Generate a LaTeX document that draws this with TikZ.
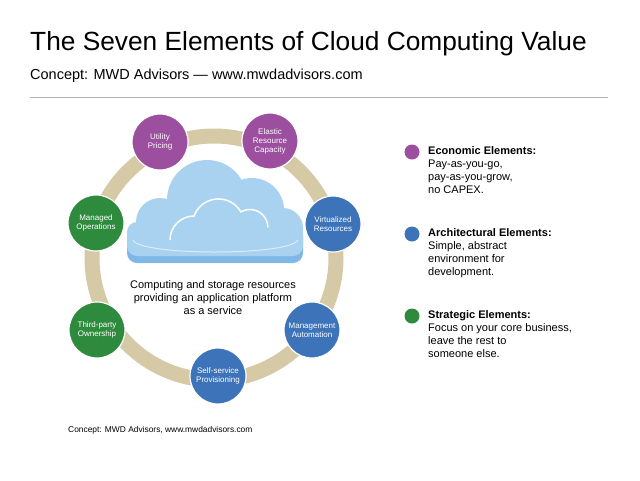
\documentclass[tikz,border=0pt]{standalone}
\usepackage{fontspec}
\setmainfont{Liberation Sans}
\begin{document}
\begin{tikzpicture}[x=1pt,y=-1pt,
  purp/.style={circle,fill=purpleC,draw=white,line width=1.2pt,minimum size=56pt,inner sep=0pt,text=white,font=\fontsize{8}{9}\selectfont,align=center},
  blu/.style={purp,fill=blueC},
  grn/.style={purp,fill=greenC},
  dot/.style={circle,minimum size=15pt,inner sep=0pt},
  leg/.style={anchor=north west,align=left,font=\fontsize{11}{13}\selectfont,inner sep=0pt}]
\definecolor{purpleC}{HTML}{9B4F9E}
\definecolor{blueC}{HTML}{3D73B9}
\definecolor{greenC}{HTML}{2E8B3E}
\definecolor{ringC}{HTML}{D6C9A6}
\definecolor{cloudC}{HTML}{A8D2F0}
\definecolor{cloudE}{HTML}{7FB8E6}
\useasboundingbox (0,0) rectangle (640,480);
\node[anchor=west,font=\fontsize{26.3}{30}\selectfont,inner sep=0pt] (title) at (30,44) {The Seven Elements of Cloud Computing Value};
\node[anchor=west,font=\fontsize{14.5}{17}\selectfont,inner sep=0pt] (sub) at (30,76) {Concept: MWD Advisors — www.mwdadvisors.com};
\draw[gray!60,line width=0.7pt] (30,97) -- (608,97);
\draw[ringC,line width=15pt] (214,258) circle (122);
% cloud
\fill[cloudE,rounded corners=10pt] (127,225) rectangle (303,263);
\fill[cloudC,rounded corners=10pt] (127,222) rectangle (303,256);
\fill[cloudC] (160,222) circle (24) (207,200) circle (40) (252,210) circle (32) (283,228) circle (20);
\draw[white,line width=1.5pt] (170,240) arc (180:270:24) arc (200:330:26) arc (240:360:18);
\draw[white!60!cloudC,line width=1pt] (133,240) .. controls (140,256) and (290,256) .. (298,240);
\node[font=\fontsize{11}{13}\selectfont,align=center] (cap) at (213,298) {Computing and storage resources\\providing an application platform\\as a service};
\node[purp] (u) at (160,142) {Utility\\Pricing};
\node[purp] (e) at (270,141) {Elastic\\Resource\\Capacity};
\node[blu] (v) at (333,224) {Virtualized\\Resources};
\node[blu] (m) at (312,330) {Management\\Automation};
\node[blu] (s) at (218,376) {Self-service\\Provisioning};
\node[grn] (t) at (97,330) {Third-party\\Ownership};
\node[grn] (o) at (96,223) {Managed\\Operations};
\node[dot,fill=purpleC] (d1) at (412,152) {};
\node[dot,fill=blueC] (d2) at (412,234) {};
\node[dot,fill=greenC] (d3) at (412,316) {};
\node[leg] (l1) at (428,146) {\textbf{Economic Elements:}\\Pay-as-you-go,\\pay-as-you-grow,\\no CAPEX.};
\node[leg] (l2) at (428,228) {\textbf{Architectural Elements:}\\Simple, abstract\\environment for\\development.};
\node[leg] (l3) at (428,310) {\textbf{Strategic Elements:}\\Focus on your core business,\\leave the rest to\\someone else.};
\node[anchor=west,font=\fontsize{8.4}{10}\selectfont,inner sep=0pt] (foot) at (68,430) {Concept: MWD Advisors, www.mwdadvisors.com};
\end{tikzpicture}
\end{document}
